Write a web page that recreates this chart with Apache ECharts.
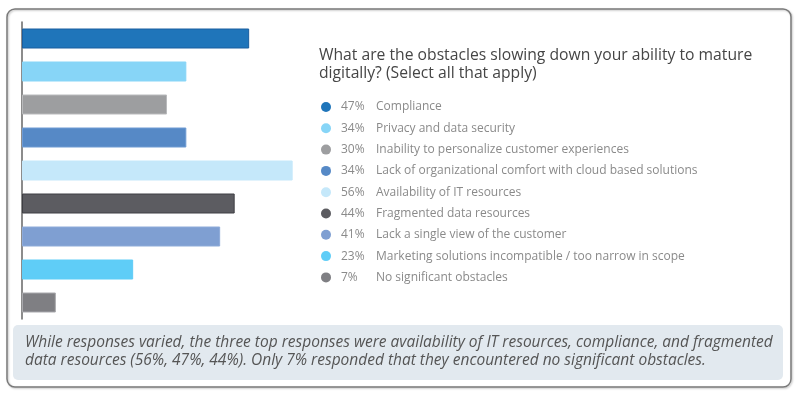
<!DOCTYPE html>
<html>
<head>
<meta charset="utf-8">
<script src="https://cdn.jsdelivr.net/npm/echarts@6/dist/echarts.min.js"></script>
<style>
  html, body { margin: 0; padding: 0; background: #fff; }
  #chart { width: 800px; height: 399px; }
</style>
</head>
<body>
<div id="chart"></div>
<script>
// data
const categories = [
  'Compliance',
  'Privacy and data security',
  'Inability to personalize customer experiences',
  'Lack of organizational comfort with cloud based solutions',
  'Availability of IT resources',
  'Fragmented data resources',
  'Lack a single view of the customer',
  'Marketing solutions incompatible / too narrow in scope',
  'No significant obstacles'
]
const values = [47, 34, 30, 34, 56, 44, 41, 23, 7]
const colors = ['#1f75ba', '#87d5f7', '#9d9ea0', '#5689c6', '#c5e8fa', '#5c5c61', '#7f9fd2', '#5fcdf7', '#7f7f83']
const borders = ['#1b5e9f', '#87d5f7', '#b9babc', '#6f9bd3', '#c5e8fa', '#3f3f44', '#8eabd9', '#5fcdf7', '#a9a9ad']

const titleText = 'What are the obstacles slowing down your ability to mature\ndigitally? (Select all that apply)'
const noteLines = [
  'While responses varied, the three top responses were availability of IT resources, compliance, and fragmented',
  'data resources (56%, 47%, 44%). Only 7% responded that they encountered no significant obstacles.'
]

const font = '"Open Sans", "Noto Sans", sans-serif'

// one series per category so the legend lists them all
const series = categories.map((name, i) => ({
  name,
  type: 'bar',
  stack: 'all',
  barWidth: 20,
  itemStyle: { color: colors[i], borderColor: borders[i], borderWidth: 1 },
  data: categories.map((_, j) => (j === i ? values[i] : null))
}))

const chart = echarts.init(document.getElementById('chart'))
chart.setOption({
  animation: false,
  color: colors,
  title: {
    text: titleText,
    left: 314,
    top: 42,
    textStyle: { fontFamily: font, fontSize: 15.7, fontWeight: 'normal', color: '#454545', lineHeight: 18 }
  },
  legend: {
    orient: 'vertical',
    left: 316,
    top: 94,
    icon: 'circle',
    itemWidth: 20,
    itemHeight: 10,
    itemGap: 5.3,
    itemStyle: { borderWidth: 0 },
    selectedMode: false,
    data: categories,
    formatter: (name) => {
      const i = categories.indexOf(name)
      return '{p|' + values[i] + '%}{n|' + name + '}'
    },
    textStyle: {
      fontFamily: font,
      fontSize: 12,
      color: '#8a8a8a',
      lineHeight: 16,
      height: 16,
      rich: {
        p: { width: 35, fontFamily: font, fontSize: 12, color: '#8a8a8a', lineHeight: 16, height: 16 },
        n: { fontFamily: font, fontSize: 12, color: '#8a8a8a', lineHeight: 16, height: 16 }
      }
    }
  },
  grid: { left: 22, top: 22, width: 290, height: 297 },
  xAxis: {
    type: 'value',
    min: 0,
    max: 60,
    show: false
  },
  yAxis: {
    type: 'category',
    inverse: true,
    data: categories,
    axisLine: { show: true, lineStyle: { color: '#666', width: 1.5 } },
    axisTick: { show: false },
    axisLabel: { show: false }
  },
  series,
  graphic: [
    {
      type: 'rect',
      shape: { x: 7, y: 9, width: 784, height: 378, r: 8 },
      style: { fill: 'none', stroke: '#7a7a7a', lineWidth: 1.5, shadowBlur: 2, shadowColor: 'rgba(0,0,0,0.25)', shadowOffsetX: 1, shadowOffsetY: 1 },
      silent: true
    },
    {
      type: 'rect',
      shape: { x: 13, y: 325, width: 770, height: 55, r: 5 },
      style: { fill: '#e2e9ef' },
      silent: true
    },
    ...noteLines.map((line, i) => ({
      type: 'text',
      x: 25,
      y: 343 + i * 17.5,
      style: {
        text: line,
        fontFamily: font,
        fontStyle: 'italic',
        fontSize: 15.5,
        fill: '#555',
        verticalAlign: 'middle'
      },
      silent: true
    }))
  ]
})
</script>
</body>
</html>
